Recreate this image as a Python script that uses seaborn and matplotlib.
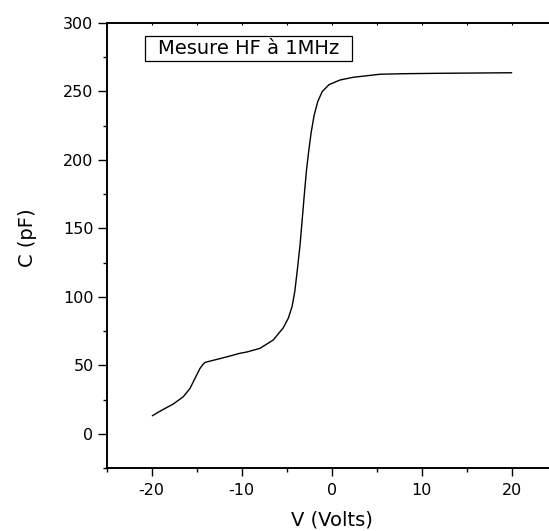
import matplotlib
matplotlib.use("Agg")
import matplotlib.pyplot as plt
import seaborn as sns
import pandas as pd
from matplotlib.ticker import MultipleLocator
from matplotlib.patches import Rectangle

volts = [-19.93, -19.3, -18.7, -17.6, -16.49, -15.74, -15.19, -14.63, -14.3, -14.08,
         -13.33, -12.41, -11.3, -10.19, -9.44, -7.97, -6.49, -5.38, -4.82, -4.4,
         -4.1, -3.82, -3.5, -3.25, -3.03, -2.8, -2.55, -2.28, -1.95, -1.55,
         -1.05, -0.3, 0.92, 2.4, 5.37, 8.0, 12.0, 16.0, 20.0]
cap_pf = [13.3, 15.8, 18.0, 21.9, 27.2, 33.3, 40.6, 47.9, 50.8, 52.2,
          53.5, 55.0, 56.9, 58.9, 59.8, 62.5, 68.6, 77.5, 84.5, 93.0,
          104.0, 119.6, 139.1, 158.6, 175.6, 192.6, 206.5, 220.0, 232.5, 242.5,
          249.8, 254.8, 258.2, 260.2, 262.4, 262.8, 263.1, 263.3, 263.5]

title_text = "Mesure HF à 1MHz"
x_label = "V (Volts)"
y_label = "C (pF)"

sns.set_theme(style="white")
plt.rcParams['font.family'] = ['DejaVu Sans']
plt.rcParams['axes.unicode_minus'] = False

df = pd.DataFrame({"V": volts, "C": cap_pf})

fig = plt.figure(figsize=(5.49, 5.31), dpi=100)
ax = fig.add_axes([106.7 / 549, (531 - 468.3) / 531, 450 / 549, 445.6 / 531])

sns.lineplot(data=df, x="V", y="C", ax=ax, color="black", linewidth=1.0, sort=False)

ax.set_xlim(-25, 25)
ax.set_ylim(-25, 300)
ax.xaxis.set_major_locator(MultipleLocator(10))
ax.xaxis.set_minor_locator(MultipleLocator(5))
ax.yaxis.set_major_locator(MultipleLocator(50))
ax.yaxis.set_minor_locator(MultipleLocator(25))

for s in ["left", "bottom", "top"]:
    ax.spines[s].set_visible(True)
    ax.spines[s].set_color("black")
    ax.spines[s].set_linewidth(1.4)
ax.spines["right"].set_visible(False)

ax.tick_params(axis="both", which="both", direction="out", color="black", width=1.0,
               labelsize=11.5, labelcolor="black")
ax.tick_params(axis="y", which="major", length=6.5, pad=3)
ax.tick_params(axis="y", which="minor", length=3)
ax.tick_params(axis="x", which="major", length=5.5, pad=5)
ax.tick_params(axis="x", which="minor", length=3)
ax.tick_params(axis="x", which="both", top=False, bottom=True)
ax.tick_params(axis="y", which="both", left=True, right=False)

# tiny inward ticks on top spine
secx = ax.secondary_xaxis("top")
secx.xaxis.set_major_locator(MultipleLocator(5))
secx.tick_params(axis="x", direction="in", length=1.5, width=0.8, labeltop=False, color="black")
secx.spines["top"].set_visible(False)

ax.set_xlabel(x_label, fontsize=14, color="black")
ax.set_ylabel(y_label, fontsize=14, color="black")
ax.xaxis.set_label_coords(0.5, -0.094)
ax.yaxis.set_label_coords(-0.155, 0.518)

ax.add_patch(Rectangle((0.0851, 0.9134), 0.4607, 0.0568, transform=ax.transAxes,
                       facecolor="white", edgecolor="black", linewidth=0.9, zorder=5))
ax.text(0.114, 0.942, title_text, transform=ax.transAxes, fontsize=14, color="black",
        ha="left", va="center", zorder=6)

ax.grid(False)
fig.savefig("out.png", dpi=100)
